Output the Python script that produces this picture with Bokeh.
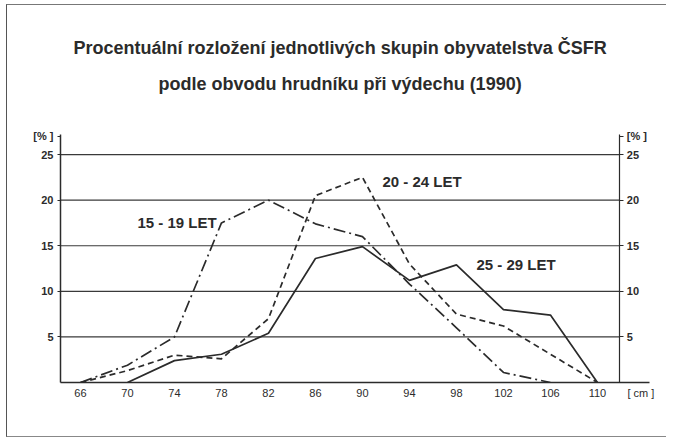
import numpy as np
from bokeh.plotting import figure
from bokeh.models import LinearAxis, FixedTicker, Label, Range1d
from bokeh.embed import file_html
from bokeh.resources import INLINE

# ---- data ----
chest_cm = [66, 70, 74, 78, 82, 86, 90, 94, 98, 102, 106, 110]
age_15_19 = [0.0, 1.9, 5.0, 17.5, 20.0, 17.4, 16.0, 10.8, 6.0, 1.1, 0.0, np.nan]
age_20_24 = [0.0, 1.3, 3.0, 2.6, 7.0, 20.5, 22.5, 13.0, 7.5, 6.2, 3.1, 0.0]
age_25_29 = [np.nan, 0.0, 2.4, 3.1, 5.4, 13.6, 14.9, 11.2, 12.9, 8.0, 7.4, 0.0]
series_names = ["15 - 19 LET", "20 - 24 LET", "25 - 29 LET"]
y_ticks = [5, 10, 15, 20, 25]
x_ticks = chest_cm
y_unit = "[% ]"
x_unit = "[ cm ]"
title_lines = ["Procentuální rozložení jednotlivých skupin obyvatelstva ČSFR",
               "podle obvodu hrudníku při výdechu (1990)"]

INK = "#2b2b2b"
FONT = "Liberation Sans"

# layout of the value space (axis extents)
x_lo, x_axis_r, x_hi = 64.3, 111.9, 114.43
y_axis_top, y_hi = 27.15, 41.35
y_unit_pos = 27.0
x_unit_pos = 113.7
title_x = 88.1
title_y = [36.7, 32.75]

p = figure(width=660, height=433, output_backend="svg", toolbar_location=None,
           x_range=Range1d(x_lo, x_hi), y_range=Range1d(0, y_hi),
           x_axis_type=None, y_axis_type=None,
           min_border_left=53, min_border_right=18, min_border_top=0,
           min_border_bottom=56, outline_line_color=None,
           background_fill_color="white", border_fill_color="white")
p.styles = {"margin-left": "6px", "margin-top": "4px",
            "border-left": "1.5px solid #555", "border-top": "1.5px solid #777",
            "border-bottom": "1.5px solid #888"}
p.xgrid.visible = False
p.ygrid.visible = False

# titles
for line, ty in zip(title_lines, title_y):
    p.add_layout(Label(x=title_x, y=ty, text=line, text_align="center",
                       text_baseline="middle", text_font=FONT, text_font_size="18px",
                       text_font_style="bold", text_color=INK))

# grid lines between the two vertical axes
p.segment(x0=[x_lo] * len(y_ticks), x1=[x_axis_r] * len(y_ticks), y0=y_ticks, y1=y_ticks,
          line_color="#3a3a3a", line_width=1.2)

# axes
xa = LinearAxis(ticker=FixedTicker(ticks=x_ticks + [x_unit_pos]),
                major_label_overrides={x_unit_pos: x_unit},
                axis_line_color=INK, axis_line_width=1.5,
                major_tick_in=0, major_tick_out=0, minor_tick_line_color=None,
                major_tick_line_color=None, major_label_text_font=FONT,
                major_label_text_font_size="11px", major_label_text_color=INK,
                major_label_standoff=4)
p.add_layout(xa, "below")

ya = LinearAxis(ticker=FixedTicker(ticks=y_ticks + [y_unit_pos]),
                major_label_overrides={y_unit_pos: y_unit},
                bounds=(0, y_axis_top), axis_line_color=INK,
                axis_line_width=1.5, major_tick_in=0, major_tick_out=3,
                minor_tick_line_color=None, major_tick_line_color=INK,
                major_label_text_font=FONT, major_label_text_font_size="11px",
                major_label_text_font_style="bold", major_label_text_color=INK,
                major_label_standoff=4)
p.add_layout(ya, "left")

ya2 = LinearAxis(ticker=FixedTicker(ticks=y_ticks + [y_unit_pos]),
                 major_label_overrides={y_unit_pos: y_unit},
                 bounds=(0, y_axis_top), fixed_location=x_axis_r,
                 axis_line_color=INK, axis_line_width=1.2, major_tick_in=0, major_tick_out=4,
                 minor_tick_line_color=None, major_tick_line_color=INK,
                 major_label_text_font=FONT, major_label_text_font_size="11px",
                 major_label_text_font_style="bold", major_label_text_color=INK,
                 major_label_standoff=3)
p.add_layout(ya2, "right")

# series lines
p.line(chest_cm, age_15_19, line_color=INK, line_width=1.7, line_dash="12 4 2 4")
p.line(chest_cm, age_20_24, line_color=INK, line_width=1.7, line_dash="6 4")
p.line(chest_cm, age_25_29, line_color=INK, line_width=1.7)

# series labels
label_pos = [(70.85, 17.6), (91.7, 22.0), (99.7, 12.9)]
for name, (lx, ly) in zip(series_names, label_pos):
    p.add_layout(Label(x=lx, y=ly, text=name, text_font=FONT, text_font_size="15px",
                       text_font_style="bold", text_color=INK, text_baseline="middle"))

open("out.html", "w").write(file_html(p, INLINE))
